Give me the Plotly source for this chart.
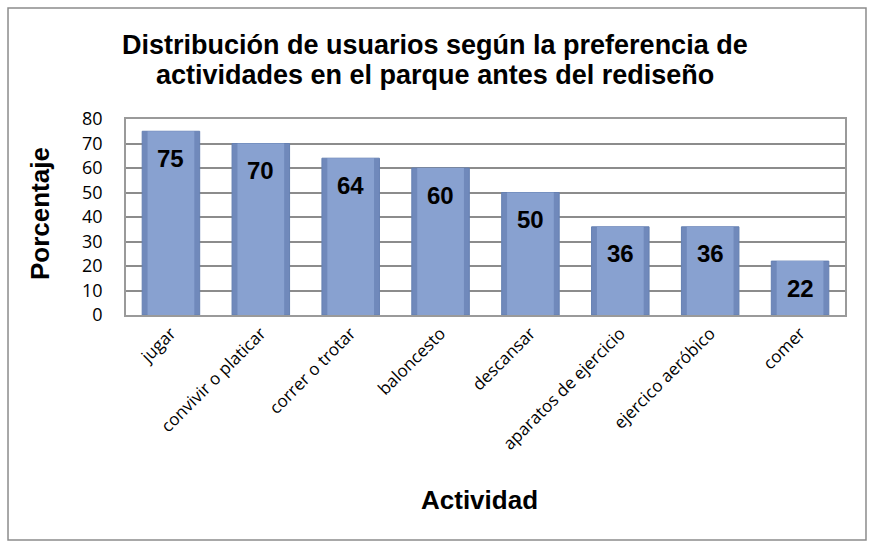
import plotly.graph_objects as go

# datos
actividades = ["jugar", "convivir o platicar", "correr o trotar", "baloncesto",
               "descansar", "aparatos de ejercicio", "ejercico aeróbico", "comer"]
porcentajes = [75, 70, 64, 60, 50, 36, 36, 22]
y_ticks = [0, 10, 20, 30, 40, 50, 60, 70, 80]
titulo = ["Distribución de usuarios según la preferencia de",
          "actividades en el parque antes del rediseño"]

bold = dict(family="Liberation Sans", size=26, color="black", weight="bold")

fig = go.Figure()
# barra base (bordes mas oscuros)
fig.add_trace(go.Bar(
    x=actividades, y=porcentajes, width=0.64,
    marker=dict(color="#7089bb", line=dict(color="#6580b2", width=1)),
    hoverinfo="skip", showlegend=False,
))
# parte central mas clara, da el efecto de bisel
fig.add_trace(go.Bar(
    x=actividades, y=porcentajes, width=0.52,
    marker=dict(color="#88a1d0", line=dict(width=0)),
    showlegend=False,
))

# etiquetas de valor dentro de cada barra
for a, v in zip(actividades, porcentajes):
    fig.add_annotation(x=a, y=v, text=str(v), showarrow=False,
                       yanchor="middle", yshift=-27,
                       font=dict(family="Liberation Sans", size=24, color="black", weight="bold"))

fig.update_layout(
    width=874, height=546, barmode="overlay",
    margin=dict(l=126, r=29, t=119, b=231),
    paper_bgcolor="white", plot_bgcolor="white",
    font=dict(family="Open Sans", color="black"),
)

fig.update_yaxes(
    range=[0, 80], tickvals=y_ticks, ticks="",
    tickfont=dict(family="Open Sans", size=18, color="black"),
    showgrid=True, gridcolor="#8c8c8c", gridwidth=1.5,
    showline=True, linecolor="#9a9a9a", linewidth=1.5, mirror=True,
    zeroline=False, ticklabelstandoff=18,
)
fig.update_xaxes(
    tickangle=-45, ticks="",
    tickfont=dict(family="Open Sans", size=17, color="black"),
    showline=True, linecolor="#9a9a9a", linewidth=1.5, mirror=True,
)

for txt, yy in zip(titulo, [1.378, 1.224]):
    fig.add_annotation(text=txt, x=0.43, y=yy, xref="paper", yref="paper",
                       xanchor="center", yanchor="middle", showarrow=False,
                       font=dict(bold, size=27))

fig.add_annotation(text="Porcentaje", textangle=-90, x=-0.1196, y=0.515,
                   xref="paper", yref="paper", xanchor="center", yanchor="middle",
                   showarrow=False, font=bold)
fig.add_annotation(text="Actividad", x=0.492, y=-0.944,
                   xref="paper", yref="paper", xanchor="center", yanchor="middle",
                   showarrow=False, font=bold)

# borde exterior del grafico
fig.add_shape(type="rect", xref="paper", yref="paper",
              x0=-0.1641, x1=1.0292, y0=-1.148, y1=1.566,
              line=dict(color="#8c8c8c", width=1.5))

fig.write_html("out.html", config={"displayModeBar": False},
               post_script="document.body.style.margin='0';")
